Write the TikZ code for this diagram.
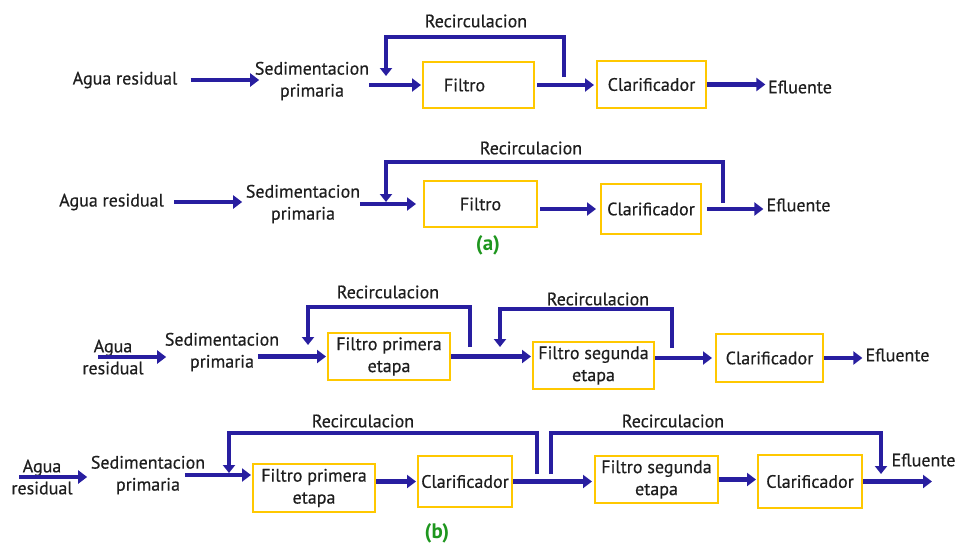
\documentclass[tikz,border=0pt]{standalone}
\usepackage{fontspec}
\setmainfont{PT Sans}
\newfontfamily\medfont[FakeBold=0.5]{PT Sans}
\usetikzlibrary{arrows.meta}
\definecolor{flowblue}{RGB}{40,30,160}
\definecolor{boxyel}{RGB}{255,200,0}
\definecolor{txt}{RGB}{30,30,30}
\definecolor{lblgreen}{RGB}{30,150,30}
\begin{document}
\begin{tikzpicture}[x=1pt,y=-1pt,
  lbl/.style={inner sep=0pt, text=txt, font=\medfont\fontsize{18}{22}\selectfont, align=center},
  box/.style={draw=boxyel, line width=2pt, inner sep=0pt, text=txt, font=\medfont\fontsize{18}{22}\selectfont, align=center},
  flow/.style={draw=flowblue, line width=4.5pt, -{Triangle[width=13pt,length=9pt]}},
  recirc/.style={draw=flowblue, line width=4pt, -{Triangle[width=12pt,length=8pt]}},
  tag/.style={inner sep=0pt, text=lblgreen, font=\fontsize{21}{24}\selectfont\bfseries}]
\useasboundingbox (0,0) rectangle (957,544);

% ---------- row 1 ----------
\node[lbl] (a1) at (125,80) {Agua residual};
\node[lbl] (s1) at (312,81) {Sedimentacion\\primaria};
\node[box, minimum width=111pt, minimum height=46pt] (f1) at (478.5,85) {Filtro\hspace{28pt}};
\node[box, minimum width=109pt, minimum height=47pt] (c1) at (651.5,84.5) {Clarificador};
\node[lbl] (e1) at (800,87) {Efluente};
\node[lbl] (r1l) at (476,21) {Recirculacion};
\draw[flow, shorten <=13pt, shorten >=-4.5pt] (a1.east) -- (a1.east -| s1.west);
\draw[flow, shorten >=1pt] (s1.east |- f1.west) -- (f1.west);
\draw[flow, shorten <=2pt, shorten >=2pt] (f1.east) -- (f1.east -| c1.west);
\draw[flow, shorten >=2.5pt] (c1.east) -- (c1.east -| e1.west);
\coordinate (r1a) at (564,77);
\coordinate (r1t) at (564,37);
\coordinate (r1b) at (386,76);
\draw[recirc] (r1a) -- (r1t) -| (r1b);

% ---------- row 2 ----------
\node[lbl] (a2) at (111.5,202) {Agua residual};
\node[lbl] (s2) at (303,204) {Sedimentacion\\primaria};
\node[box, minimum width=113pt, minimum height=46pt] (f2) at (480.5,204) {Filtro};
\node[box, minimum width=100pt, minimum height=50pt] (c2) at (651,209) {Clarificador};
\node[lbl] (e2) at (798.5,205) {Efluente};
\node[lbl] (r2l) at (531,148) {Recirculacion};
\node[tag] (ta) at (488,245) {(a)};
\draw[flow, shorten <=10pt, shorten >=3.5pt] (a2.east) -- (a2.east -| s2.west);
\draw[flow, shorten >=7pt] (s2.east |- f2.west) -- (f2.west);
\draw[flow, shorten <=2pt, shorten >=4pt] (f2.east |- c2.west) -- (c2.west);
\draw[flow, shorten <=5pt, shorten >=3pt] (c2.east) -- (c2.east -| e2.west);
\coordinate (r2a) at (723,203);
\coordinate (r2t) at (723,162);
\coordinate (r2b) at (386,202);
\draw[recirc] (r2a) -- (r2t) -| (r2b);

% ---------- row 3 ----------
\node[lbl] (a3) at (113,357) {Agua\\residual};
\node[lbl] (s3) at (222,352) {Sedimentacion\\primaria};
\node[box, minimum width=122pt, minimum height=47pt] (fp3) at (389,356.5) {Filtro primera\\etapa};
\node[box, minimum width=121pt, minimum height=47pt] (fs3) at (593.5,365.5) {Filtro segunda\\etapa};
\node[box, minimum width=107pt, minimum height=48pt] (c3) at (769.5,358) {Clarificador};
\node[lbl] (e3) at (897.5,355) {Efluente};
\node[lbl] (r3l) at (388,292) {Recirculacion};
\node[lbl] (r3m) at (598,299) {Recirculacion};
\draw[flow, shorten <=16pt, shorten >=-1.5pt] (a3.west) -- (a3.west -| s3.west);
\draw[flow, shorten <=-21.5pt, shorten >=1pt] (s3.east |- fp3.west) -- (fp3.west);
\draw[flow, shorten >=1pt] (fp3.east) -- (fp3.east -| fs3.west);
\draw[flow, shorten >=3pt] (fs3.east |- c3.west) -- (c3.west);
\draw[flow, shorten >=3pt] (c3.east) -- (c3.east -| e3.west);
\coordinate (r3a) at (470,347);
\coordinate (r3t) at (470,307);
\coordinate (r3b) at (308,345);
\draw[recirc] (r3a) -- (r3t) -| (r3b);
\coordinate (r4a) at (672,348);
\coordinate (r4t) at (672,309);
\coordinate (r4b) at (500,347);
\draw[recirc] (r4a) -- (r4t) -| (r4b);

% ---------- row 4 ----------
\node[lbl] (a4) at (42,477) {Agua\\residual};
\node[lbl] (s4) at (148,475) {Sedimentacion\\primaria};
\node[box, minimum width=122pt, minimum height=48pt] (fp4) at (314,488) {Filtro primera\\etapa};
\node[box, minimum width=94pt, minimum height=51pt] (c4) at (465,481.5) {Clarificador};
\node[box, minimum width=123pt, minimum height=47pt] (fs4) at (656.5,479.5) {Filtro segunda\\etapa};
\node[box, minimum width=104pt, minimum height=53pt] (c4b) at (810,481.5) {Clarificador};
\node[lbl] (e4) at (923.5,460) {Efluente};
\node[lbl] (r5l) at (363,421) {Recirculacion};
\node[lbl] (r6l) at (673,421) {Recirculacion};
\node[tag] (tb) at (437,533) {(b)};
\coordinate (o4) at (932,479);
\draw[flow, shorten <=8pt, shorten >=3.5pt] (a4.west) -- (a4.west -| s4.west);
\draw[flow, shorten <=-20.5pt, shorten >=1pt] (s4.east) -- (s4.east -| fp4.west);
\draw[flow, shorten >=1pt] (fp4.east |- c4.west) -- (c4.west);
\draw[flow, shorten >=2pt] (c4.east) -- (c4.east -| fs4.west);
\draw[flow, shorten >=1pt] (fs4.east) -- (fs4.east -| c4b.west);
\draw[flow] (c4b.east) -- (c4b.east -| o4);
\coordinate (r5a) at (537,474);
\coordinate (r5t) at (537,433);
\coordinate (r5b) at (229,473);
\draw[recirc] (r5a) -- (r5t) -| (r5b);
\coordinate (r6a) at (551,474);
\coordinate (r6t) at (551,433);
\coordinate (r6b) at (881,474);
\draw[recirc] (r6a) -- (r6t) -| (r6b);
\end{tikzpicture}
\end{document}
